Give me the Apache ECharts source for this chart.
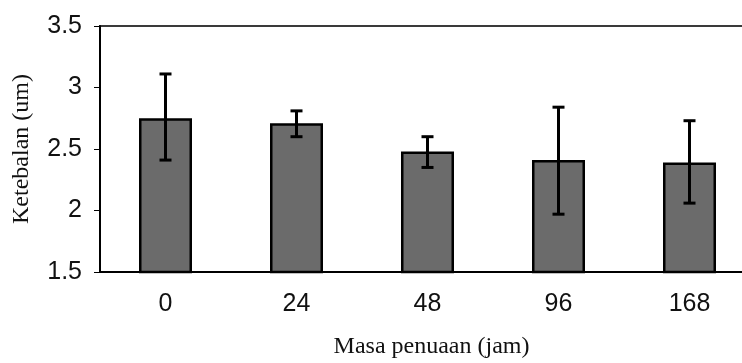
<!DOCTYPE html>
<html>
<head>
<meta charset="utf-8">
<script src="https://cdn.jsdelivr.net/npm/echarts@6/dist/echarts.min.js"></script>
<style>
  html, body { margin: 0; padding: 0; background: #fff; }
  #chart { width: 742px; height: 363px; }
</style>
</head>
<body>
<div id="chart"></div>
<script>
// data
var categories = ['0', '24', '48', '96', '168'];
var thickness = [2.75, 2.71, 2.48, 2.41, 2.39];
var errLow = [2.41, 2.60, 2.35, 1.97, 2.06];
var errHigh = [3.11, 2.81, 2.60, 2.84, 2.73];
var yTicks = [1.5, 2, 2.5, 3, 3.5];

var chart = echarts.init(document.getElementById('chart'));

var errData = categories.map(function (c, i) {
  return [i, errLow[i], errHigh[i]];
});

chart.setOption({
  animation: false,
  grid: {
    left: 100,
    top: 26,
    width: 655,
    bottom: 91,
    outerBoundsMode: 'none',
    containLabel: false,
    show: true,
    borderColor: '#3a3a3a',
    borderWidth: 2
  },
  xAxis: {
    type: 'category',
    data: categories,
    name: 'Masa penuaan (jam)',
    nameLocation: 'middle',
    nameGap: 63,
    nameTextStyle: { fontFamily: 'Liberation Serif', fontSize: 24, color: '#111', padding: [0, 0, 0, 8] },
    axisLine: { lineStyle: { color: '#000', width: 2 } },
    axisTick: { length: 6, lineStyle: { color: '#000', width: 1 } },
    axisLabel: { fontFamily: 'Liberation Sans', fontSize: 25, color: '#111', margin: 20 }
  },
  yAxis: {
    type: 'value',
    min: yTicks[0],
    max: yTicks[yTicks.length - 1],
    interval: 0.5,
    name: 'Ketebalan (um)',
    nameLocation: 'middle',
    nameGap: 66,
    nameTextStyle: { fontFamily: 'Liberation Serif', fontSize: 24, color: '#111' },
    splitLine: { show: false },
    axisLine: { show: true, lineStyle: { color: '#000', width: 2 } },
    axisTick: { show: true, length: 6, lineStyle: { color: '#000', width: 1 } },
    axisLabel: { fontFamily: 'Liberation Sans', fontSize: 25, color: '#111', margin: 18 }
  },
  series: [
    {
      type: 'bar',
      data: thickness,
      barWidth: 53,
      itemStyle: { color: '#6b6b6b', borderColor: '#000', borderWidth: 2.5 }
    },
    {
      type: 'custom',
      data: errData,
      z: 10,
      renderItem: function (params, api) {
        var x = api.value(0);
        var lo = api.coord([x, api.value(1)]);
        var hi = api.coord([x, api.value(2)]);
        var half = 6;
        var style = { stroke: '#000', lineWidth: 3 };
        return {
          type: 'group',
          children: [
            { type: 'line', shape: { x1: lo[0], y1: lo[1], x2: hi[0], y2: hi[1] }, style: style },
            { type: 'line', shape: { x1: hi[0] - half, y1: hi[1], x2: hi[0] + half, y2: hi[1] }, style: style },
            { type: 'line', shape: { x1: lo[0] - half, y1: lo[1], x2: lo[0] + half, y2: lo[1] }, style: style }
          ]
        };
      }
    }
  ]
});
</script>
</body>
</html>
